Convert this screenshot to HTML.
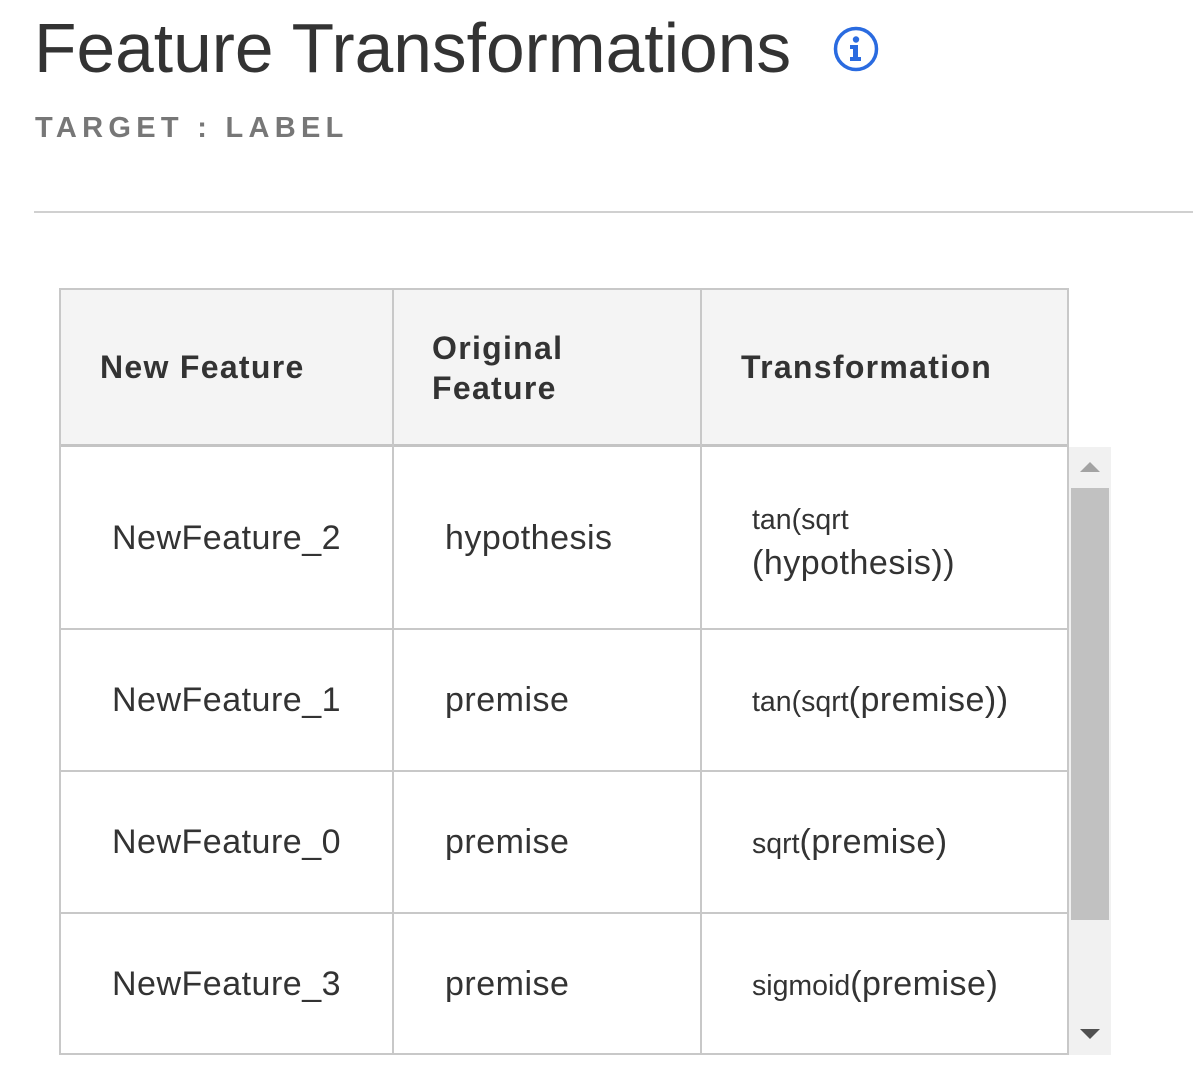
<!DOCTYPE html>
<html><head><meta charset="utf-8"><style>
body{margin:0;width:1193px;height:1077px;background:#fff;position:relative;overflow:hidden;font-family:"Liberation Sans",Arial,sans-serif;color:#333}
.a{position:absolute;white-space:nowrap}
.h{font-weight:bold;font-size:32px;letter-spacing:1.3px;color:#333}
.b{font-size:34px;letter-spacing:0.5px;color:#333}
.s{font-size:28.5px}
.vl{position:absolute;width:2px;background:#c8c8c8}
.hl{position:absolute;height:2px;background:#c8c8c8}
</style></head><body>
<div class="a" style="left:34px;top:8px;font-size:69.5px;color:#333">Feature Transformations</div>
<svg class="a" style="left:832px;top:26px" width="48" height="48" viewBox="0 0 48 48">
<circle cx="24" cy="23" r="20.5" fill="none" stroke="#2a6be0" stroke-width="3.5"/>
<circle cx="24" cy="13.5" r="3.2" fill="#2a6be0"/>
<path d="M18 19h8v12h3v4H18v-4h3v-8h-3z" fill="#2a6be0"/>
</svg>
<div class="a" style="left:35px;top:112px;font-size:29px;font-weight:bold;letter-spacing:5.3px;color:#777">TARGET : LABEL</div>
<div class="a" style="left:34px;top:211px;width:1159px;height:2px;background:#d0d0d0"></div>

<div class="a" style="left:60px;top:289px;width:1008px;height:156px;background:#f4f4f4"></div>
<div class="hl" style="left:60px;top:288px;width:1009px"></div>
<div class="a" style="left:60px;top:444px;width:1009px;height:3px;background:#c4c4c4"></div>
<div class="hl" style="left:60px;top:628px;width:1009px"></div>
<div class="hl" style="left:60px;top:770px;width:1009px"></div>
<div class="hl" style="left:60px;top:912px;width:1009px"></div>
<div class="hl" style="left:60px;top:1053px;width:1009px"></div>
<div class="vl" style="left:59px;top:288px;height:767px"></div>
<div class="vl" style="left:392px;top:288px;height:767px"></div>
<div class="vl" style="left:700px;top:288px;height:767px"></div>
<div class="vl" style="left:1067px;top:288px;height:767px"></div>

<div class="a h" style="left:100px;top:349px">New Feature</div>
<div class="a h" style="left:432px;top:328px;line-height:40px">Original<br>Feature</div>
<div class="a h" style="left:741px;top:349px">Transformation</div>

<div class="a b" style="left:112px;top:519px">NewFeature_2</div>
<div class="a b" style="left:445px;top:519px">hypothesis</div>
<div class="a" style="left:752px;top:501px;line-height:38px"><span class="s">tan(sqrt</span><br><span class="b">(hypothesis))</span></div>

<div class="a b" style="left:112px;top:681px">NewFeature_1</div>
<div class="a b" style="left:445px;top:681px">premise</div>
<div class="a" style="left:752px;top:681px"><span class="s">tan(sqrt</span><span class="b">(premise))</span></div>

<div class="a b" style="left:112px;top:823px">NewFeature_0</div>
<div class="a b" style="left:445px;top:823px">premise</div>
<div class="a" style="left:752px;top:823px"><span class="s">sqrt</span><span class="b">(premise)</span></div>

<div class="a b" style="left:112px;top:965px">NewFeature_3</div>
<div class="a b" style="left:445px;top:965px">premise</div>
<div class="a" style="left:752px;top:965px"><span class="s">sigmoid</span><span class="b">(premise)</span></div>

<div class="a" style="left:1069px;top:447px;width:42px;height:608px;background:#f1f1f1"></div>
<div class="a" style="left:1071px;top:488px;width:38px;height:432px;background:#c1c1c1"></div>
<svg class="a" style="left:1079px;top:460px" width="22" height="14"><polygon points="1,12 11,2 21,12" fill="#a3a3a3"/></svg>
<svg class="a" style="left:1079px;top:1027px" width="22" height="14"><polygon points="1,2 11,12 21,2" fill="#505050"/></svg>
</body></html>
